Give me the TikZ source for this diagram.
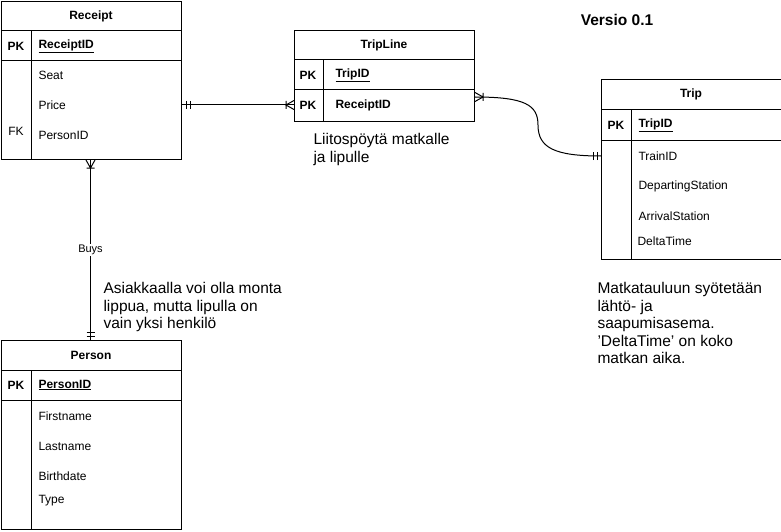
\documentclass[tikz,border=0pt]{standalone}
\usepackage{fontspec}
\setmainfont{Liberation Sans}
\usetikzlibrary{calc}
\begin{document}
\begin{tikzpicture}[x=1pt,y=-1pt,line width=1pt,
  ent/.style={draw,rectangle,inner sep=0pt,anchor=north west},
  ftxt/.style={font=\fontsize{12}{14}\selectfont,anchor=west,inner sep=0pt},
  fbold/.style={font=\bfseries\fontsize{12}{14}\selectfont,anchor=west,inner sep=0pt},
  ktxt/.style={font=\bfseries\fontsize{12}{14}\selectfont,inner sep=0pt},
  ntxt/.style={font=\fontsize{12}{14}\selectfont,inner sep=0pt},
  ttl/.style={font=\bfseries\fontsize{12}{14}\selectfont,inner sep=0pt},
  note/.style={font=\fontsize{15.5}{17.5}\selectfont,align=left,anchor=north west,inner sep=0pt},
  rel/.style={draw,line width=1pt},
  mandone/.pic={\draw[line width=1pt] (4,-4)--(4,4) (8,-4)--(8,4);},
  onemany/.pic={\draw[line width=1pt] (8,-4)--(8,4) (0,-4.5)--(8,0)--(0,4.5);}
]
\useasboundingbox (0,0) rectangle (781,532);

% ---------- Receipt ----------
\node[ent,minimum width=180pt,minimum height=158pt] (receipt) at (1,1) {};
\draw (1,31)--(181,31) (1,61)--(181,61) (31,31)--(31,159);
\node[ttl] (r-title) at (91,16) {Receipt};
\node[ktxt] (r-pk) at (16,46) {PK};
\node[fbold] (r-id) at (38,46) {\underline{ReceiptID}};
\node[ftxt] (r-seat) at (38,75) {Seat};
\node[ftxt] (r-price) at (38,105) {Price};
\node[ftxt] (r-pid) at (38,135) {PersonID};
\node[ntxt] (r-fk) at (16,131) {FK};

% ---------- TripLine ----------
\node[ent,minimum width=180pt,minimum height=91pt] (tripline) at (294,30) {};
\draw (294,60)--(474,60) (294,90)--(474,90) (323,60)--(323,121);
\node[ttl] (tl-title) at (384,45) {TripLine};
\node[ktxt] (tl-pk1) at (308,75) {PK};
\node[ktxt] (tl-pk2) at (308,105) {PK};
\node[fbold] (tl-tid) at (335,75) {\underline{TripID}};
\node[fbold] (tl-rid) at (335,105) {ReceiptID};

% ---------- Trip ----------
\node[ent,minimum width=179.5pt,minimum height=180pt] (trip) at (601,79) {};
\draw (601,110)--(780.5,110) (601,140)--(780.5,140) (631,110)--(631,259);
\node[ttl] (t-title) at (691,94) {Trip};
\node[ktxt] (t-pk) at (616,125) {PK};
\node[fbold] (t-id) at (638,125) {\underline{TripID}};
\node[ftxt] (t-train) at (638,156) {TrainID};
\node[ftxt] (t-dep) at (638,186) {DepartingStation};
\node[ftxt] (t-arr) at (638,216) {ArrivalStation};
\node[ftxt] (t-delta) at (637,241) {DeltaTime};

% ---------- Person ----------
\node[ent,minimum width=180pt,minimum height=189pt] (person) at (1,340) {};
\draw (1,370)--(181,370) (1,400)--(181,400) (31,370)--(31,529);
\node[ttl] (p-title) at (91,355) {Person};
\node[ktxt] (p-pk) at (16,385) {PK};
\node[fbold] (p-id) at (38,385) {\underline{PersonID}};
\node[ftxt] (p-first) at (38,416) {Firstname};
\node[ftxt] (p-last) at (38,446) {Lastname};
\node[ftxt] (p-birth) at (38,476) {Birthdate};
\node[ftxt] (p-type) at (38,501) {Type};

% ---------- relations ----------
\coordinate (rc-out) at (receipt.east |- r-price.west);
\coordinate (tl-in) at (tripline.west |- tl-rid.west);
\draw[rel] (rc-out) -- (tl-in);
\pic at (rc-out) {mandone};
\pic[rotate=180] at (tl-in) {onemany};

\coordinate (tl-out) at ($(tripline.east |- tl-rid.west)+(0,-8)$);
\coordinate (t-in) at (trip.west |- t-train.west);
\draw[rel] (tl-out) .. controls (525,97) and (538,105) .. (538,125)
           .. controls (538,148) and (555,156) .. (t-in);
\pic at (tl-out) {onemany};
\pic[rotate=180] at (t-in) {mandone};

\coordinate (rc-s) at ($(receipt.south)+(-1,0)$);
\coordinate (p-n) at ($(person.north)+(-1,0)$);
\draw[rel] (rc-s) -- node[fill=white,inner sep=1.5pt,font=\fontsize{11}{13}\selectfont] (buys) {Buys} (p-n);
\pic[rotate=-90] at (rc-s) {onemany};
\pic[rotate=90] at (p-n) {mandone};

% ---------- notes ----------
\node[note] (n1) at (103,282) {Asiakkaalla voi olla monta\\lippua, mutta lipulla on\\vain yksi henkilö};
\node[note] (n2) at (313,133) {Liitospöytä matkalle\\ja lipulle};
\node[note] (n3) at (597,282) {Matkatauluun syötetään\\lähtö- ja\\saapumisasema.\\'DeltaTime' on koko\\matkan aika.};
\node[font=\bfseries\fontsize{15.5}{18}\selectfont,inner sep=0pt] (ver) at (617,20) {Versio 0.1};
\end{tikzpicture}
\end{document}
